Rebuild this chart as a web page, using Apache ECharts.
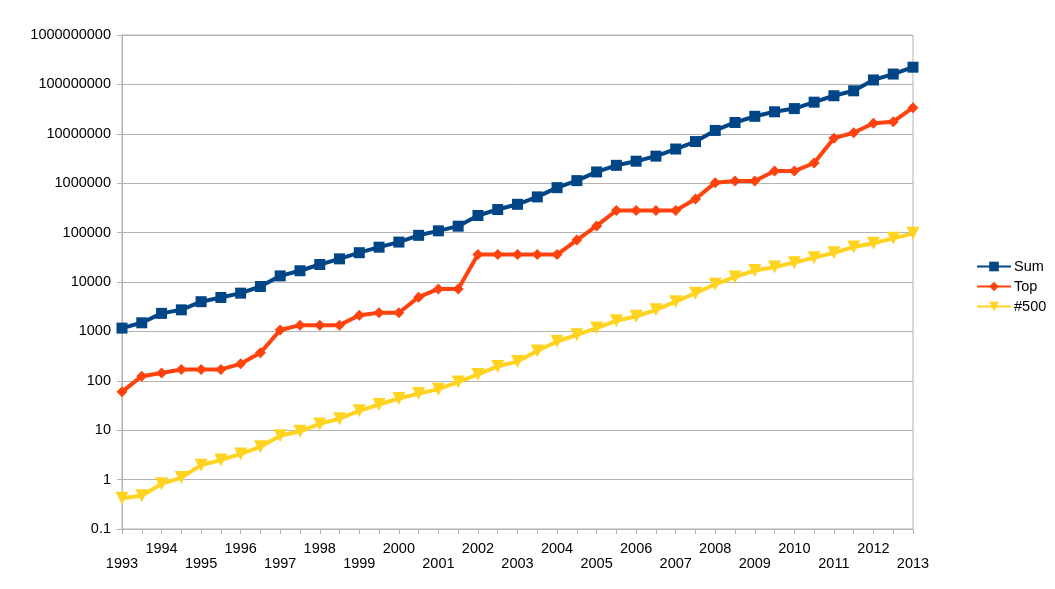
<!DOCTYPE html>
<html lang="en">
<head>
  <meta charset="UTF-8">
  <title>Performance development</title>
  <script src="https://cdn.jsdelivr.net/npm/echarts@6/dist/echarts.min.js"></script>
  <style>
    html, body { margin: 0; padding: 0; background: #fff; }
  </style>
</head>
<body>
  <div id="perf" style="width:1055px;height:589px;"></div>
</body>
</html>
<script type="text/javascript">
  // two lists per year, June and November, 1993 - June 2013
  let periods = [];
  for (let y = 1993; y <= 2013; y++) {
    periods.push(y + '-06');
    if (y < 2013) periods.push(y + '-11');
  }

  let sumData = [1167, 1494, 2317, 2732, 3993, 4862, 5950, 8100, 13300, 16900,
    22600, 29400, 39200, 50700, 64300, 88100, 108600, 134900, 222000, 293000,
    374000, 528000, 813000, 1127000, 1690000, 2300000, 2790000, 3530000, 4920000, 6970000,
    11700000, 16950000, 22600000, 27900000, 32400000, 43700000, 58900000, 74200000, 123000000, 162000000,
    223000000];
  let topData = [59.7, 124, 143.4, 170, 170, 170, 220.4, 368.2, 1068, 1338,
    1338, 1338, 2121, 2379, 2379, 4938, 7226, 7226, 35860, 35860,
    35860, 35860, 35860, 70720, 136800, 280600, 280600, 280600, 280600, 478200,
    1026000, 1105000, 1105000, 1759000, 1759000, 2566000, 8162000, 10510000, 16320000, 17590000,
    33860000];
  let lastData = [0.42, 0.47, 0.82, 1.1, 1.96, 2.5, 3.3, 4.6, 7.7, 9.5,
    13.4, 17.1, 24.7, 33.1, 43.8, 55.1, 67.8, 94.3, 134.3, 195.8,
    245.1, 403.4, 624, 851, 1166, 1646, 2026, 2736, 4005, 5929,
    9000, 12640, 17090, 20050, 24670, 31120, 39090, 50940, 60820, 76500,
    96620];

  let perf = echarts.init(document.getElementById('perf'));
  let textFont = 'Liberation Sans';
  let perfOption = {
    animation: false,
    backgroundColor: '#fff',
    textStyle: { fontFamily: textFont },
    grid: {
      left: 122,
      right: 142,
      top: 35,
      bottom: 60,
      show: true,
      borderColor: '#b3b3b3',
      borderWidth: 1
    },
    legend: {
      orient: 'vertical',
      left: 971,
      top: 254,
      itemWidth: 34,
      itemHeight: 12,
      itemGap: 5,
      textStyle: { fontSize: 14.5, lineHeight: 12, color: '#000', fontFamily: textFont, padding: [0, 0, 0, -2] },
      data: ['Sum', 'Top', '#500']
    },
    xAxis: {
      type: 'category',
      boundaryGap: false,
      data: periods,
      axisLine: { lineStyle: { color: '#b3b3b3' } },
      axisTick: { show: true, interval: 0, length: 5, lineStyle: { color: '#b3b3b3' } },
      axisLabel: {
        interval: 0,
        margin: 12,
        fontSize: 14.5,
        color: '#000',
        lineHeight: 15,
        formatter: function (val, i) {
          if (i % 2) return '';
          let year = val.slice(0, 4);
          return (i / 2) % 2 ? year : '\n' + year;
        }
      },
      splitLine: { show: false }
    },
    yAxis: {
      type: 'log',
      logBase: 10,
      min: 0.1,
      max: 1000000000,
      axisLine: { show: true, lineStyle: { color: '#b3b3b3' } },
      axisTick: { show: true, length: 5, lineStyle: { color: '#b3b3b3' } },
      axisLabel: {
        fontSize: 14.5,
        color: '#000',
        margin: 11,
        formatter: function (v) {
          return v < 1 ? '0.1' : String(Math.round(v));
        }
      },
      splitLine: { lineStyle: { color: '#b3b3b3' } }
    },
    series: [
      {
        name: 'Sum',
        type: 'line',
        data: sumData,
        symbol: 'rect',
        symbolSize: 11,
        color: '#004586',
        lineStyle: { width: 4, color: '#004586' }
      },
      {
        name: 'Top',
        type: 'line',
        data: topData,
        symbol: 'diamond',
        symbolSize: 11,
        color: '#ff420e',
        lineStyle: { width: 4, color: '#ff420e' }
      },
      {
        name: '#500',
        type: 'line',
        data: lastData,
        symbol: 'triangle',
        symbolRotate: 180,
        symbolSize: 13,
        color: '#ffd320',
        lineStyle: { width: 4, color: '#ffd320' }
      }
    ]
  };
  perf.setOption(perfOption);
</script>
